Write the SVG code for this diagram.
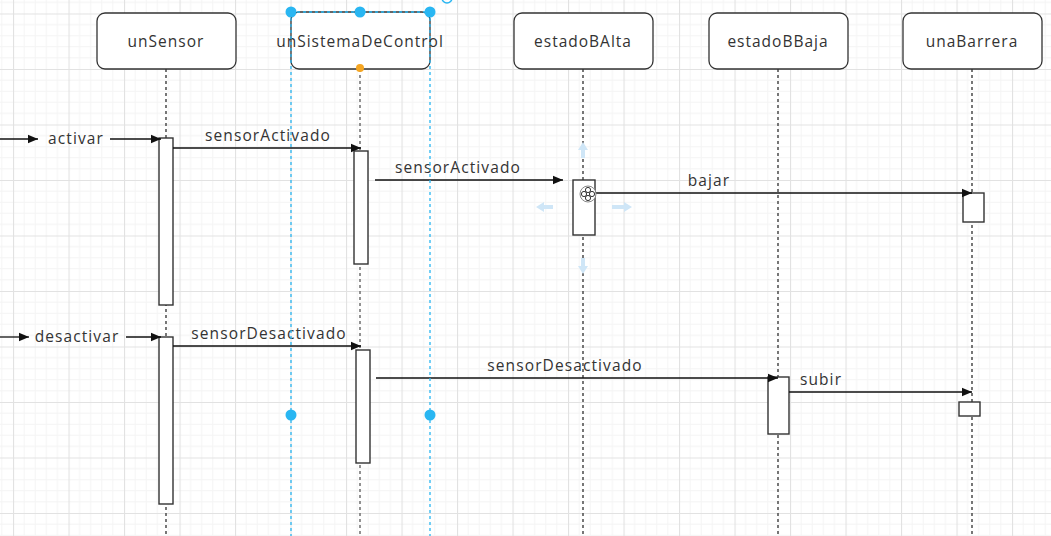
<svg xmlns="http://www.w3.org/2000/svg" width="1051" height="536" viewBox="0 0 1051 536">
  <defs>
    <pattern id="grid" patternUnits="userSpaceOnUse" x="13" y="13.5" width="55.5" height="55.5">
      <path d="M11.1 0V55.5M22.2 0V55.5M33.3 0V55.5M44.4 0V55.5M0 11.1H55.5M0 22.2H55.5M0 33.3H55.5M0 44.4H55.5" stroke="#f4f4f4" stroke-width="1" fill="none"/>
      <path d="M0.5 0V55.5M0 0.5H55.5" stroke="#e2e2e2" stroke-width="1.2" fill="none"/>
    </pattern>
    <marker id="arr" viewBox="0 0 10 10" refX="10" refY="5" markerWidth="10" markerHeight="10" markerUnits="userSpaceOnUse" orient="auto">
      <path d="M0 0.8L10 5L0 9.2Z" fill="#111"/>
    </marker>
    <style>
      .box{fill:#fff;stroke:#333;stroke-width:1.3}
      .life{stroke:#555;stroke-width:1.6;stroke-dasharray:3 3;fill:none}
      .act{fill:#fff;stroke:#333;stroke-width:1.4}
      .msg{stroke:#111;stroke-width:1.3;fill:none;marker-end:url(#arr)}
      .hdr{font-family:"Open Sans","Noto Sans",sans-serif;font-size:15.5px;fill:#333;text-anchor:middle;letter-spacing:1px}
      .lbl{font-family:"Open Sans","Noto Sans",sans-serif;font-size:15.5px;fill:#333;text-anchor:middle;letter-spacing:1.1px}
      .sel{stroke:#29b6f2;stroke-width:1.3;stroke-dasharray:3 3;fill:none}
      .hdl{fill:#29b6f2}
      .hov{fill:#cfe6f7}
    </style>
  </defs>
  <rect width="1051" height="536" fill="#fff"/>
  <rect width="1051" height="536" fill="url(#grid)"/>

  <g id="unSensor">
    <line class="life" x1="166" y1="69" x2="166" y2="536"/>
    <rect class="box" x="97" y="13" width="139" height="56" rx="8"/>
    <text class="hdr" x="166" y="47">unSensor</text>
    <rect class="act" x="159" y="138" width="14" height="167"/>
    <rect class="act" x="159" y="337" width="14" height="167"/>
  </g>

  <g id="unSistemaDeControl">
    <line class="life" x1="360" y1="69" x2="360" y2="536" style="stroke:#777"/>
    <rect class="box" x="291" y="12" width="139" height="57" rx="8"/>
    <text class="hdr" x="360" y="47">unSistemaDeControl</text>
    <rect class="act" x="354" y="151" width="14" height="113"/>
    <rect class="act" x="356" y="350" width="14" height="113"/>
  </g>

  <g id="estadoBAlta">
    <line class="life" x1="583" y1="69" x2="583" y2="536"/>
    <rect class="box" x="514" y="13" width="139" height="56" rx="8"/>
    <text class="hdr" x="583" y="47">estadoBAlta</text>
    <rect class="act" x="573" y="180" width="22" height="55"/>
  </g>

  <g id="estadoBBaja">
    <line class="life" x1="778" y1="69" x2="778" y2="536"/>
    <rect class="box" x="709" y="13" width="139" height="56" rx="8"/>
    <text class="hdr" x="778" y="47">estadoBBaja</text>
    <rect class="act" x="768" y="377" width="21" height="57"/>
  </g>

  <g id="unaBarrera">
    <line class="life" x1="972" y1="69" x2="972" y2="536"/>
    <rect class="box" x="903" y="13" width="139" height="56" rx="8"/>
    <text class="hdr" x="972" y="47">unaBarrera</text>
    <rect class="act" x="963" y="193" width="21" height="29"/>
    <rect class="act" x="959" y="402" width="21" height="14"/>
  </g>

  <g id="connectors">
    <line class="msg" x1="0" y1="139" x2="38" y2="139"/>
    <line class="msg" x1="110" y1="139" x2="161" y2="139"/>
    <line class="msg" x1="173" y1="148" x2="361" y2="148"/>
    <line class="msg" x1="375" y1="180" x2="563" y2="180"/>
    <line class="msg" x1="595" y1="193" x2="972" y2="193"/>
    <line class="msg" x1="0" y1="337" x2="29" y2="337"/>
    <line class="msg" x1="126" y1="337" x2="161" y2="337"/>
    <line class="msg" x1="173" y1="346" x2="361" y2="346"/>
    <line class="msg" x1="376" y1="378" x2="778" y2="378"/>
    <line class="msg" x1="789" y1="392" x2="972" y2="392"/>
    <text class="lbl" x="76" y="144">activar</text>
    <text class="lbl" x="268" y="141">sensorActivado</text>
    <text class="lbl" x="458" y="173">sensorActivado</text>
    <text class="lbl" x="709" y="186">bajar</text>
    <text class="lbl" x="77" y="342">desactivar</text>
    <text class="lbl" x="269" y="339">sensorDesactivado</text>
    <text class="lbl" x="565" y="371">sensorDesactivado</text>
    <text class="lbl" x="821" y="385">subir</text>
  </g>

  <g id="selection">
    <line class="sel" x1="291" y1="12" x2="430" y2="12"/>
    <line class="sel" x1="291" y1="12" x2="291" y2="536"/>
    <line class="sel" x1="430" y1="12" x2="430" y2="536"/>
    <circle class="hdl" cx="291" cy="12" r="5.5"/>
    <circle class="hdl" cx="360" cy="12" r="5.5"/>
    <circle class="hdl" cx="430" cy="12" r="5.5"/>
    <circle class="hdl" cx="291" cy="415" r="5.5"/>
    <circle class="hdl" cx="430" cy="415" r="5.5"/>
    <circle cx="360" cy="68" r="4" fill="#f5a623"/>
    <circle cx="447" cy="-2" r="5" fill="none" stroke="#29b6f2" stroke-width="1.5"/>
  </g>

  <g id="hover">
    <path class="hov" d="M536 207L544 202V205H553V209H544V212Z"/>
    <path class="hov" d="M632 207L624 202V205H612V209H624V212Z"/>
    <path class="hov" d="M583 142L578 150H581V158H585V150H588Z"/>
    <path class="hov" d="M583 274L578 266H581V258H585V266H588Z"/>
    <circle cx="588" cy="194" r="8" fill="#fff" stroke="#888" stroke-width="1"/>
    <circle cx="588" cy="190" r="2.6" fill="none" stroke="#333" stroke-width="1"/>
    <circle cx="588" cy="198" r="2.6" fill="none" stroke="#333" stroke-width="1"/>
    <circle cx="584" cy="194" r="2.6" fill="none" stroke="#333" stroke-width="1"/>
    <circle cx="592" cy="194" r="2.6" fill="none" stroke="#333" stroke-width="1"/>
  </g>
</svg>
